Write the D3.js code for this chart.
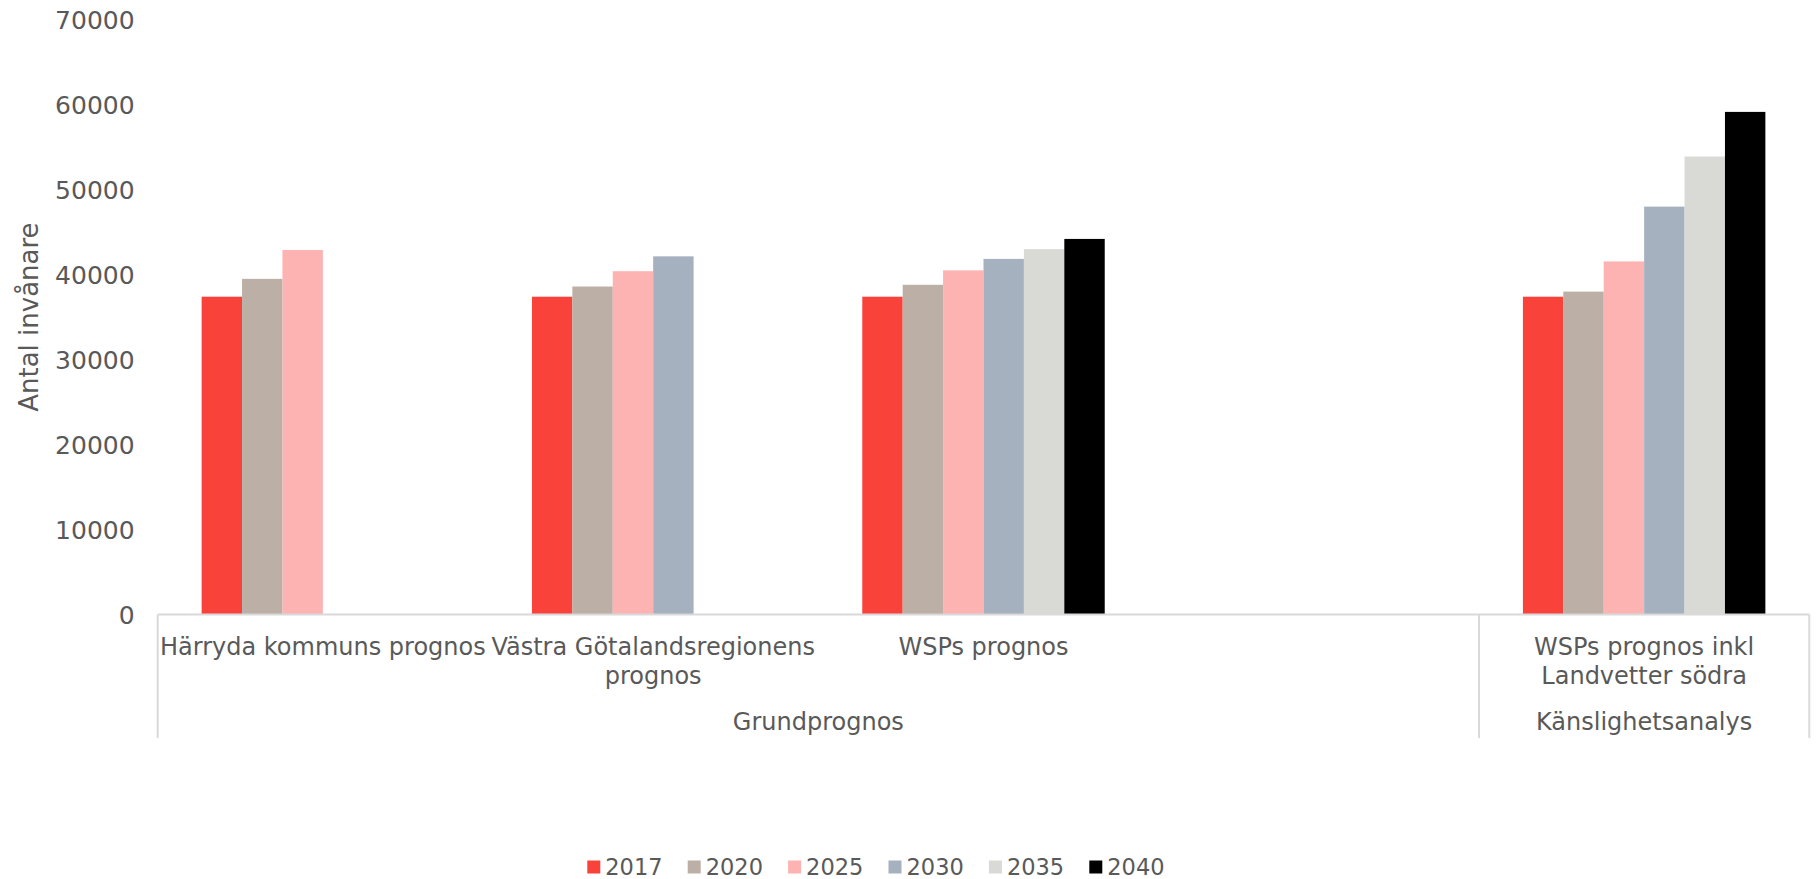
<!DOCTYPE html>
<html>
<head>
<meta charset="utf-8">
<script src="https://cdn.jsdelivr.net/npm/d3@7"></script>
<style>
  html, body { margin: 0; padding: 0; background: #ffffff; }
  svg { display: block; }
  text { font-family: "DejaVu Sans", "Noto Sans", sans-serif; fill: #595959; }
</style>
</head>
<body>
<svg id="chart" width="1819" height="879"></svg>
<script>
// ---- data ----
const categories = [
  "Härryda kommuns prognos",
  "Västra Götalandsregionens\nprognos",
  "WSPs prognos",
  "",
  "WSPs prognos inkl\nLandvetter södra"
];
const groups = ["Grundprognos", "Känslighetsanalys"];
const groupOfCategory = [0, 0, 0, 0, 1];
const years = ["2017", "2020", "2025", "2030", "2035", "2040"];
const values2017 = [37400, 37400, 37400, null, 37400];
const values2020 = [39500, 38600, 38800, null, 38000];
const values2025 = [42900, 40400, 40500, null, 41550];
const values2030 = [null, 42150, 41850, null, 48000];
const values2035 = [null, null, 43000, null, 53900];
const values2040 = [null, null, 44200, null, 59150];
const seriesValues = [values2017, values2020, values2025, values2030, values2035, values2040];
const colors = ["#F9433A", "#BBAFA6", "#FCB3B2", "#A5B1BE", "#D9D9D6", "#000000"];
const yTicks = [0, 10000, 20000, 30000, 40000, 50000, 60000, 70000];
const yTitle = "Antal invånare";

// ---- layout ----
const svg = d3.select("#chart");
const plotLeft = 157.7, plotRight = 1809.3, plotTop = 19.7, plotBottom = 614.5;
const axisColor = "#D9D9D9";
const tickFont = 25, titleFont = 26, catFont = 24, groupFont = 24, legendFont = 22.5;

const x0 = d3.scaleBand().domain(d3.range(categories.length)).range([plotLeft, plotRight]).padding(0);
const edge = x0.bandwidth() * 0.133;
const x1 = d3.scaleBand().domain(years).range([edge, x0.bandwidth() - edge]).padding(0);
const y = d3.scaleLinear().domain([0, 70000]).range([plotBottom, plotTop]);

// y axis labels
const yAxis = d3.axisLeft(y).tickValues(yTicks).tickSize(0).tickPadding(0).tickFormat(d3.format("d"));
const yg = svg.append("g").attr("transform", `translate(${134.6},0)`).call(yAxis);
yg.select(".domain").remove();
yg.selectAll("text").attr("font-size", tickFont).attr("font-family", null).attr("fill", "#595959").attr("dy", "0.35em");

// y title
svg.append("text")
  .attr("transform", `translate(29,${(plotTop + plotBottom) / 2}) rotate(-90)`)
  .attr("text-anchor", "middle").attr("dy", "0.35em")
  .attr("font-size", titleFont)
  .text(yTitle);

// bars
const barData = [];
seriesValues.forEach((vals, si) => {
  vals.forEach((v, ci) => { if (v != null) barData.push({ si, ci, v }); });
});
svg.append("g").selectAll("rect").data(barData).join("rect")
  .attr("x", d => x0(d.ci) + x1(years[d.si]))
  .attr("width", x1.bandwidth())
  .attr("y", d => y(d.v))
  .attr("height", d => y(0) - y(d.v))
  .attr("fill", d => colors[d.si]);

// category axis
const axisG = svg.append("g");
axisG.append("line")
  .attr("x1", plotLeft).attr("x2", plotRight)
  .attr("y1", plotBottom).attr("y2", plotBottom)
  .attr("stroke", axisColor).attr("stroke-width", 2);

// group boundaries
const boundaries = [0];
for (let i = 1; i < categories.length; i++) {
  if (groupOfCategory[i] !== groupOfCategory[i - 1]) boundaries.push(i);
}
boundaries.push(categories.length);
const bottomOfLines = 738;
boundaries.forEach(b => {
  const bx = b < categories.length ? x0(b) : plotRight;
  axisG.append("line")
    .attr("x1", bx).attr("x2", bx)
    .attr("y1", plotBottom).attr("y2", bottomOfLines)
    .attr("stroke", axisColor).attr("stroke-width", 2);
});

// category labels
const lineHeight = 29;
categories.forEach((c, i) => {
  const lines = c.split("\n");
  const t = axisG.append("text")
    .attr("text-anchor", "middle")
    .attr("font-size", catFont)
    .attr("x", x0(i) + x0.bandwidth() / 2);
  lines.forEach((l, li) => {
    t.append("tspan").attr("x", x0(i) + x0.bandwidth() / 2)
      .attr("y", 647 + li * lineHeight).attr("dy", "0.35em").text(l);
  });
});

// group labels
groups.forEach((g, gi) => {
  const idx = d3.range(categories.length).filter(i => groupOfCategory[i] === gi);
  const gx0 = x0(idx[0]);
  const gx1 = x0(idx[idx.length - 1]) + x0.bandwidth();
  axisG.append("text")
    .attr("text-anchor", "middle")
    .attr("font-size", groupFont)
    .attr("x", (gx0 + gx1) / 2).attr("y", 721.6).attr("dy", "0.35em")
    .text(g);
});

// legend
const legend = svg.append("g");
const sw = 13, gapSwatch = 5, stride = 100.4, legendStart = 587.3, legendY = 867;
years.forEach((yr, i) => {
  const lx = legendStart + i * stride;
  legend.append("rect").attr("x", lx).attr("y", legendY - sw / 2).attr("width", sw).attr("height", sw).attr("fill", colors[i]);
  legend.append("text").attr("x", lx + sw + gapSwatch).attr("y", legendY).attr("dy", "0.35em")
    .attr("font-size", legendFont).text(yr);
});
</script>
</body>
</html>
